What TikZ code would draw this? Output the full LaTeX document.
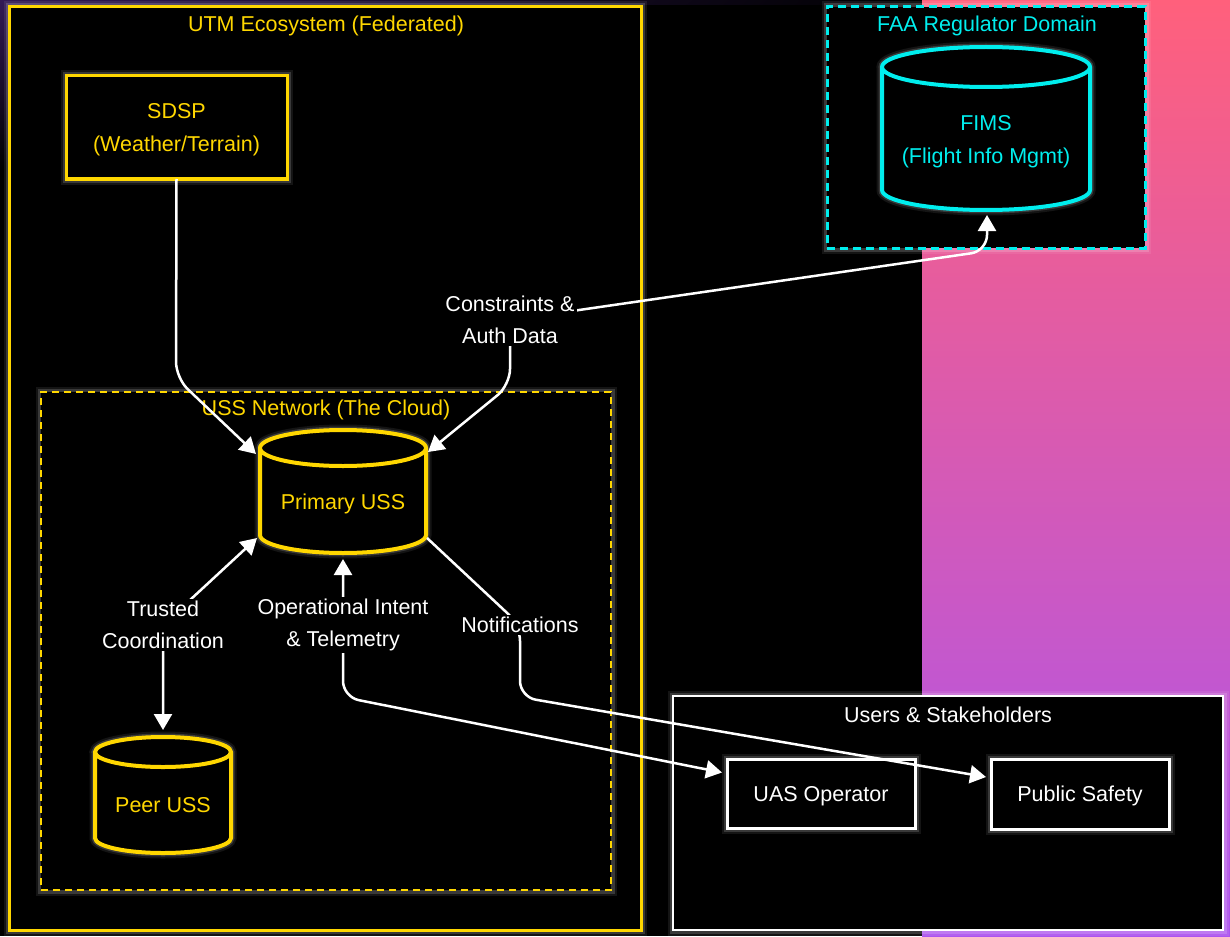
\documentclass[tikz,border=0pt]{standalone}
\usepackage{fontspec}
\setmainfont{Liberation Sans}
\usetikzlibrary{arrows.meta,calc,shadings}

\definecolor{utmyellow}{RGB}{255,215,0}
\definecolor{faacyan}{RGB}{0,238,238}
\definecolor{bgpurple}{RGB}{50,26,86}
\definecolor{bgpink}{RGB}{255,96,124}
\definecolor{bgmid}{RGB}{216,88,180}
\definecolor{bgviolet}{RGB}{172,84,238}

\pgfdeclarelayer{bg}
\pgfdeclarelayer{edges}
\pgfsetlayers{bg,edges,main}

% cylinder outline around an (empty) node: #1 node, #2 x radius, #3 y radius, #4 style
\newcommand{\drumpath}[4]{%
  \path[#4] (#1.north west) -- ($(#1.south west)+(0,#3)$)
    arc[start angle=180, end angle=360, x radius=#2, y radius=#3]
    -- (#1.north east)
    arc[start angle=0, end angle=180, x radius=#2, y radius=#3]
    arc[start angle=180, end angle=360, x radius=#2, y radius=#3];
}

\begin{document}
\begin{tikzpicture}[x=1pt, y=1pt,
  font=\fontsize{21.5}{32.5}\selectfont,
  glow/.style={
    preaction={draw=white, solid, line width=11pt, draw opacity=0.08},
    preaction={draw=white, solid, line width=7pt, draw opacity=0.16}},
  container/.style={rectangle, fill=black, inner sep=0pt, outer sep=0pt, glow},
  txt/.style={yshift=-3pt},
  ctitle/.style={inner sep=1pt, txt},
  ybox/.style={rectangle, draw=utmyellow, line width=3pt, fill=black, text=utmyellow,
    align=center, inner sep=0pt, outer sep=0pt, text depth=0pt, glow},
  wbox/.style={rectangle, draw=white, line width=3pt, fill=black, text=white,
    align=center, inner sep=0pt, outer sep=0pt, text depth=0pt, glow},
  drumbody/.style={rectangle, inner sep=0pt, outer sep=0pt},
  drum/.style={fill=black, line width=4pt, glow},
  elabel/.style={text=white, fill=black, align=center, inner sep=2pt, yshift=-1pt},
  link/.style={draw=white, line width=2.5pt, rounded corners=16pt},
  tipend/.style={-{Triangle[length=16pt,width=18pt]}},
  tipboth/.style={{Triangle[length=16pt,width=18pt]}-{Triangle[length=16pt,width=18pt]}},
]
\useasboundingbox (0,0) rectangle (1230,-936);

\begin{pgfonlayer}{bg}
  % page background
  \fill[black] (0,0) rectangle (922,-936);
  \shade[upper left=bgpurple, upper right=black, lower left=black, lower right=black]
    (0,0) rectangle (922,-170);
  \shade[top color=bgpink, middle color=bgmid, bottom color=bgviolet]
    (922,0) rectangle (1230,-936);
  \fill[black] (8,-5) rectangle (922,-936);

  % groups
  \node[container, draw=utmyellow, line width=3pt, minimum width=632pt, minimum height=923pt]
    (utm) at (325,-468.5) {};
  \node[ctitle, text=utmyellow] (utmtitle) at (326,-23) {UTM Ecosystem (Federated)};

  \node[container, draw=utmyellow, line width=1.5pt, dash pattern=on 7pt off 5pt,
    minimum width=570pt, minimum height=498pt] (ussnet) at (326,-641) {};
  \node[ctitle, text=utmyellow] (ussnettitle) at (326,-407) {USS Network (The Cloud)};

  \node[container, draw=faacyan, line width=3pt, dash pattern=on 8pt off 5pt,
    minimum width=318pt, minimum height=241pt] (faa) at (986,-127.5) {};
  \node[ctitle, text=faacyan] (faatitle) at (987,-23) {FAA Regulator Domain};

  \node[container, draw=white, line width=1.5pt, minimum width=550pt, minimum height=234pt]
    (users) at (948,-813) {};
  \node[ctitle, text=white] (userstitle) at (948,-712) {Users \& Stakeholders};

  % boxes
  \node[ybox, minimum width=221pt, minimum height=103pt] (sdsp) at (176.5,-127.5)
    {SDSP\\(Weather/Terrain)};
  \node[wbox, minimum width=188pt, minimum height=69pt] (uas) at (821,-793.5) {UAS Operator};
  \node[wbox, minimum width=178pt, minimum height=70pt] (pub) at (1080,-794) {Public Safety};

  % data stores
  \node[drumbody, minimum width=166pt, minimum height=105pt] (prim) at (343,-500.5) {};
  \drumpath{prim}{83}{18}{drum, draw=utmyellow}
  \node[text=utmyellow, txt] (primtext) at (prim.center) {Primary USS};

  \node[drumbody, minimum width=136pt, minimum height=101pt] (peer) at (163,-802.5) {};
  \drumpath{peer}{68}{15}{drum, draw=utmyellow}
  \node[text=utmyellow, txt] (peertext) at (peer.center) {Peer USS};

  \node[drumbody, minimum width=208pt, minimum height=143pt] (fims) at (986,-138.5) {};
  \drumpath{fims}{104}{20}{drum, draw=faacyan}
  \node[text=faacyan, align=center, txt] (fimstext) at (fims.center) {FIMS\\(Flight Info Mgmt)};
\end{pgfonlayer}

% edge labels
\node[elabel] (cons) at (510,-319) {Constraints \&\\Auth Data};
\node[elabel] (trust) at (163,-624) {Trusted\\Coordination};
\node[elabel] (opi) at (343,-624) {Operational Intent\\\& Telemetry};
\node[elabel] (notif) at (520,-624) {Notifications};

\begin{pgfonlayer}{edges}
  \draw[link, tipend] (sdsp.south) -- (176,-378) -- ($(prim.north west)+(-4,-6)$);
  \draw[link, tipboth] ($(fims.south)+(1,-5)$) -- (987,-251) -- (cons.center)
    -- (510,-385) -- ($(prim.north east)+(2,-4)$);
  \draw[link, tipboth] ($(peer.north)+(0,22)$) -- (trust.center)
    -- ($(prim.south west)+(-3,15)$);
  \draw[link, tipboth] ($(prim.south)+(0,-6)$) -- (opi.center) -- (343,-697)
    -- ($(uas.west)+(-5,21)$);
  \draw[link, tipend] ($(prim.south east)+(1,15)$) -- (notif.center) -- (520,-697)
    -- ($(pub.west)+(-5,17)$);
\end{pgfonlayer}
\end{tikzpicture}
\end{document}
